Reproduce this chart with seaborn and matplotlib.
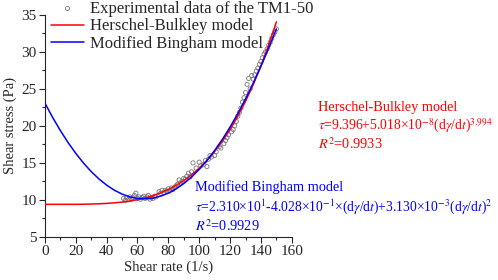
import seaborn as sns
import matplotlib.pyplot as plt
from matplotlib.ticker import MultipleLocator

# experimental points
shear_rate = [51, 52, 53, 54, 55, 56, 57, 58, 59, 60, 61, 62, 63, 64, 65, 66, 67, 68, 69, 70,
              71, 72, 74, 75, 76, 77, 78, 79, 80, 81, 82, 83, 84, 85, 86, 87, 88, 89, 90, 91,
              92, 93, 94, 95, 96, 98, 100, 101, 103, 104, 105, 106, 107, 108, 110, 111, 113, 114,
              116, 117, 118, 119, 121, 122, 123, 124, 125, 126, 127, 128, 129, 130, 131, 132, 133,
              134, 135, 136, 137, 138, 139, 140, 141, 142, 143, 144, 145, 146, 147, 148, 149, 150]
shear_stress = [10.2, 9.9, 10.3, 10.0, 10.4, 10.1, 10.3, 10.6, 10.9, 10.2, 10.4, 10.1, 10.3, 10.5,
                10.2, 10.4, 10.6, 10.1, 10.3, 10.2, 10.5, 10.4, 11.1, 10.9, 11.3, 11.0, 11.3, 11.2,
                11.5, 11.2, 11.6, 11.4, 11.7, 11.9, 12.1, 12.7, 12.3, 12.5, 12.9, 12.8, 13.2, 13.6,
                13.1, 13.8, 15.0, 14.3, 15.1, 14.6, 14.8, 15.3, 14.5, 15.5, 16.0, 15.8, 16.0, 16.5,
                17.2, 17.0, 17.6, 18.0, 18.4, 18.8, 19.2, 19.5, 20.0, 20.6, 21.3, 21.8, 22.4, 23.2,
                23.8, 24.5, 25.6, 26.4, 25.0, 26.8, 26.3, 26.9, 27.4, 27.8, 28.3, 28.7, 29.2, 29.7,
                30.0, 30.4, 30.9, 31.3, 31.8, 32.3, 32.7, 33.1]

# fitted curves
curve_x = [0, 5, 10, 15, 20, 25, 30, 35, 40, 45, 50, 55, 60, 65, 70, 75, 80, 85, 90, 95, 100,
           105, 110, 115, 120, 125, 130, 135, 140, 145, 150]
hb_fit = [9.40, 9.40, 9.40, 9.40, 9.40, 9.41, 9.44, 9.47, 9.52, 9.60, 9.70, 9.84, 10.03, 10.27,
          10.57, 10.94, 11.40, 11.95, 12.60, 13.37, 14.28, 15.33, 16.54, 17.93, 19.51, 21.30,
          23.32, 25.58, 28.11, 30.93, 34.05]
mb_fit = [23.10, 21.16, 19.39, 17.76, 16.30, 14.99, 13.83, 12.84, 12.00, 11.31, 10.79, 10.41,
          10.20, 10.14, 10.24, 10.50, 10.91, 11.48, 12.20, 13.08, 14.12, 15.31, 16.67, 18.17,
          19.84, 21.66, 23.63, 25.77, 28.06, 30.50, 33.11]

sns.set_style("ticks")
plt.rcParams["font.family"] = ["Liberation Serif", "DejaVu Serif"]
plt.rcParams["mathtext.fontset"] = "stix"

fig, ax = plt.subplots(figsize=(4.98, 2.80), dpi=100)
fig.subplots_adjust(left=0.090, right=0.586, bottom=0.154, top=0.947)

sns.scatterplot(x=shear_rate, y=shear_stress, ax=ax, marker="o", s=9,
                facecolor="none", edgecolor="#777777", linewidth=0.6,
                label="Experimental data of the TM1-50", zorder=2)
sns.lineplot(x=curve_x, y=hb_fit, ax=ax, color="#ff0000", linewidth=1.1,
             label="Herschel-Bulkley model", zorder=3)
sns.lineplot(x=curve_x, y=mb_fit, ax=ax, color="#0000ff", linewidth=1.1,
             label="Modified Bingham model", zorder=4)

ax.set_xlim(0, 160)
ax.set_ylim(5, 35)
ax.xaxis.set_major_locator(MultipleLocator(20))
ax.xaxis.set_minor_locator(MultipleLocator(10))
ax.yaxis.set_major_locator(MultipleLocator(5))
ax.yaxis.set_minor_locator(MultipleLocator(2.5))
ax.tick_params(which="major", direction="out", length=4, width=0.8, labelsize=11, pad=2)
ax.tick_params(which="minor", direction="out", length=2.5, width=0.8)
sns.despine(ax=ax)
ax.set_xlabel("Shear rate (1/s)", fontsize=10.5, labelpad=2)
ax.set_ylabel("Shear stress (Pa)", fontsize=10.5, labelpad=3)

leg = ax.legend(loc="upper left", bbox_to_anchor=(50 / 498, 1.0),
                bbox_transform=fig.transFigure, frameon=False, fontsize=12,
                handlelength=2.0, handletextpad=0.35, labelspacing=0.1,
                borderaxespad=0, borderpad=0.05)

red = "#ff0000"
blue = "#0000ff"
fs = 10.3
fs_eq = 9.8
fig.text(318 / 498, 1 - 108 / 280, "Herschel-Bulkley model", color=red, fontsize=fs, va="center")
fig.text(318 / 498, 1 - 126 / 280,
         r"$\tau$=9.396+5.018×10$^{-8}$(d$\gamma$/d$t$)$^{3.994}$",
         color=red, fontsize=fs_eq, va="center")
fig.text(318 / 498, 1 - 144 / 280, r"$R^{2}$=0.9933", color=red, fontsize=fs, va="center")

fig.text(195 / 498, 1 - 187 / 280, "Modified Bingham model", color=blue, fontsize=fs, va="center")
fig.text(195 / 498, 1 - 207 / 280,
         r"$\tau$=2.310×10$^{1}$-4.028×10$^{-1}$×(d$\gamma$/d$t$)+3.130×10$^{-3}$(d$\gamma$/d$t$)$^{2}$",
         color=blue, fontsize=fs_eq, va="center")
fig.text(195 / 498, 1 - 226 / 280, r"$R^{2}$=0.9929", color=blue, fontsize=fs, va="center")

fig.savefig("out.png", dpi=100)
